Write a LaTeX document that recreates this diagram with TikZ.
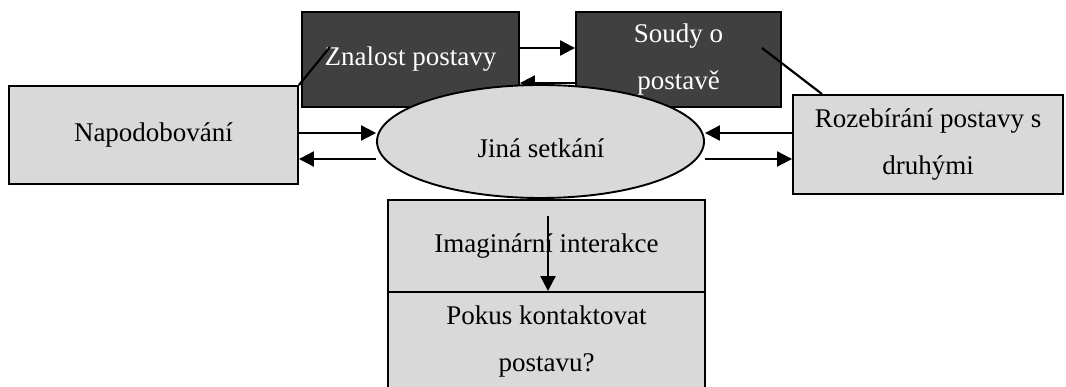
\documentclass[tikz,border=0pt]{standalone}
\usepackage{fontspec}
\setmainfont{Liberation Serif}
\usetikzlibrary{shapes.geometric,arrows.meta}
\definecolor{darkbox}{HTML}{404040}
\definecolor{lightbox}{HTML}{D9D9D9}
\tikzset{
  base/.style={draw=black, line width=1.9pt, inner sep=0pt, align=center,
    font=\fontsize{27}{47}\selectfont},
  darkb/.style={base, fill=darkbox, text=white},
  lightb/.style={base, fill=lightbox},
  arr/.style={line width=2.2pt, -{Triangle[length=15pt,width=15pt]}},
  plain/.style={line width=2.2pt}
}
\begin{document}
\begin{tikzpicture}[x=1pt,y=-1pt]
\useasboundingbox (0,0) rectangle (1066,387);
\clip (0,0) rectangle (1066,387);
% boxes
\node[darkb, minimum width=217pt, minimum height=95pt] (znal) at (410.5,59.5) {Znalost postavy};
\node[darkb, minimum width=205pt, minimum height=95pt] (soud) at (678.5,59.5) {Soudy o\\postavě};
\node[lightb, minimum width=289pt, minimum height=98pt] (napo) at (153.5,135) {Napodobování};
\node[lightb, minimum width=270pt, minimum height=99pt] (roze) at (928,144.5) {Rozebírání postavy s\\druhými};
\node[lightb, minimum width=317pt, minimum height=92pt] (imag) at (546.5,246) {Imaginární interakce};
\node[lightb, minimum width=317pt, minimum height=100pt] (poku) at (546.5,342) {Pokus kontaktovat\\postavu?};
% arrows between top boxes
\draw[arr] (znal.east |- 0,48) -- (soud.west |- 0,48);
\draw[arr] (soud.west |- 0,83) -- (znal.east |- 0,83);
% plain lines
\coordinate (zt) at (330,47);
\draw[plain] (napo.north east) -- (zt);
\coordinate (st) at (762,48);
\draw[plain] (st) -- (roze.north west -| 822,0);
% ellipse
\node[base, ellipse, fill=lightbox, minimum width=327pt, minimum height=113pt] (ell) at (540.5,141.5) {};
\node[font=\fontsize{27}{47}\selectfont, inner sep=0pt] (elltext) at (541,148) {Jiná setkání};
% side arrows
\draw[arr] (napo.east |- 0,133) -- (ell.west |- 0,133);
\draw[arr] (ell.west |- 0,159) -- (napo.east |- 0,159);
\draw[arr] (roze.west |- 0,133) -- (ell.east |- 0,133);
\draw[arr] (ell.east |- 0,159) -- (roze.west |- 0,159);
% vertical arrow
\coordinate (vs) at (548,216);
\draw[arr] (vs) -- (vs |- poku.north);
\end{tikzpicture}
\end{document}
